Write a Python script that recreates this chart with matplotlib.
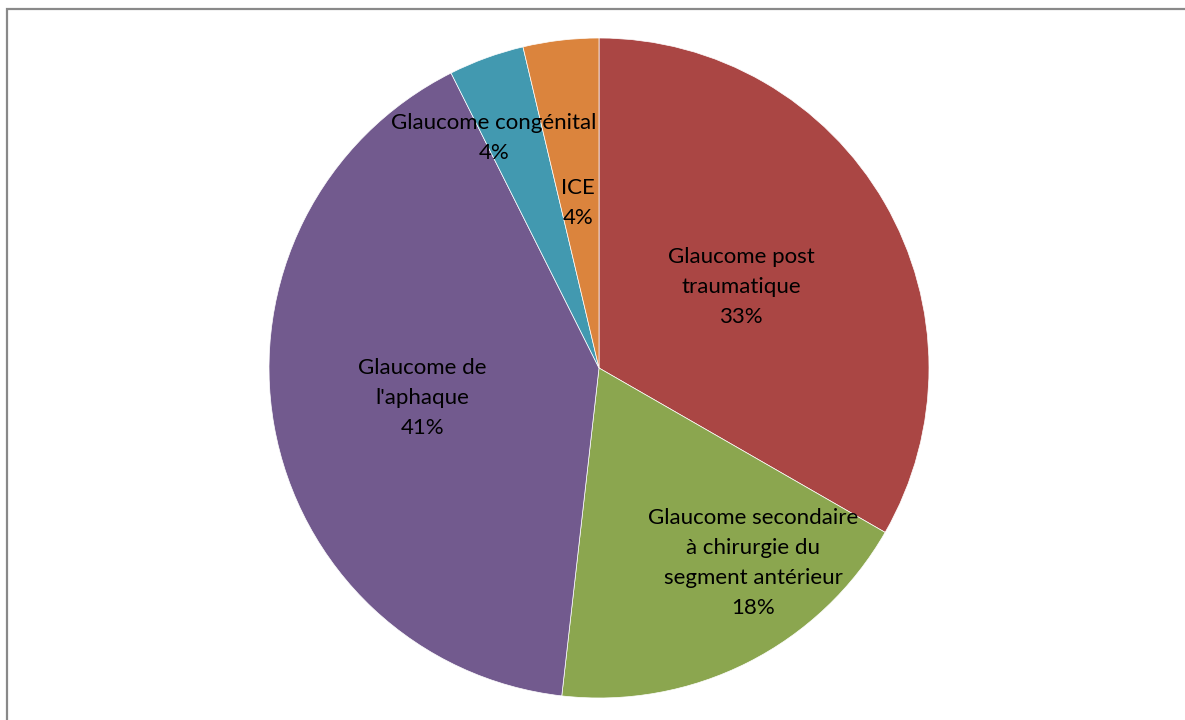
import matplotlib
matplotlib.use("Agg")
import matplotlib.pyplot as plt
from matplotlib.patches import Rectangle

categories = ["Glaucome post\ntraumatique", "Glaucome secondaire\nà chirurgie du\nsegment antérieur",
              "Glaucome de\nl'aphaque", "Glaucome congénital", "ICE"]
values = [33.3, 18.5, 40.8, 3.7, 3.7]          # slice sizes
shown_pct = [33, 18, 41, 4, 4]                  # percentages printed on the chart
colors = ["#AA4644", "#8BA64F", "#725A8E", "#4299B0", "#DB843D"]

# label centres in data units (pie radius = 1)
label_pos = [(0.43, 0.245), (0.467, -0.591), (-0.536, -0.091), (-0.318, 0.697), (-0.064, 0.50)]

W, H = 1185, 720
fig = plt.figure(figsize=(W / 100, H / 100), dpi=100)
fig.patch.set_facecolor("white")

# outer frame
frame = Rectangle((7 / W, -0.05), 1.2, (H - 9) / H + 0.05, transform=fig.transFigure,
                  fill=False, edgecolor="#898989", linewidth=1.6)
fig.add_artist(frame)

cx, cy, r = 599, 368, 330
ax = fig.add_axes([(cx - r) / W, (H - cy - r) / H, 2 * r / W, 2 * r / H])
ax.pie(values, colors=colors, startangle=90, counterclock=False, radius=1,
       wedgeprops=dict(edgecolor="white", linewidth=0.5))
ax.set_xlim(-1, 1)
ax.set_ylim(-1, 1)
ax.set_aspect("equal")
ax.axis("off")

for cat, p, (x, y) in zip(categories, shown_pct, label_pos):
    ax.text(x, y, f"{cat}\n{p:d}%", ha="center", va="center",
            fontsize=16, family=["Lato", "DejaVu Sans"], color="black", linespacing=1.62)

fig.savefig("out.png", dpi=100, facecolor="white")
